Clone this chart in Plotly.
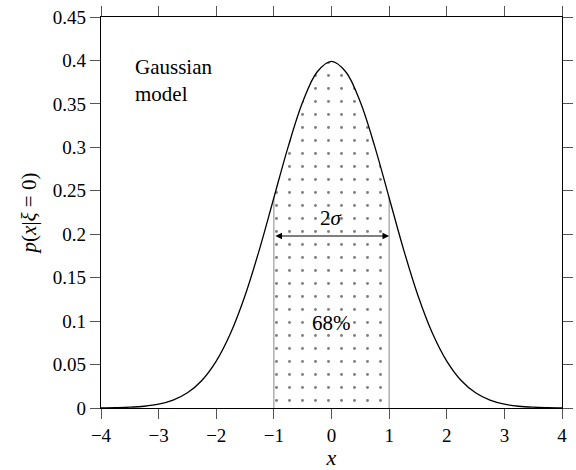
import plotly.graph_objects as go

# Sampled values of the density curve
x_vals = [-4.0, -3.75, -3.5, -3.25, -3.0, -2.75, -2.5, -2.25, -2.0, -1.75, -1.5, -1.25,
          -1.0, -0.75, -0.5, -0.25, 0.0, 0.25, 0.5, 0.75, 1.0, 1.25, 1.5, 1.75,
          2.0, 2.25, 2.5, 2.75, 3.0, 3.25, 3.5, 3.75, 4.0]
p_vals = [0.0001, 0.0004, 0.0009, 0.0020, 0.0044, 0.0091, 0.0175, 0.0317, 0.0540, 0.0863,
          0.1295, 0.1826, 0.2420, 0.3011, 0.3521, 0.3867, 0.3989, 0.3867, 0.3521, 0.3011,
          0.2420, 0.1826, 0.1295, 0.0863, 0.0540, 0.0317, 0.0175, 0.0091, 0.0044, 0.0020,
          0.0009, 0.0004, 0.0001]

x_ticks = [-4, -3, -2, -1, 0, 1, 2, 3, 4]
x_tick_text = ["\u22124", "\u22123", "\u22122", "\u22121", "0", "1", "2", "3", "4"]
y_ticks = [0, 0.05, 0.1, 0.15, 0.2, 0.25, 0.3, 0.35, 0.4, 0.45]
y_tick_text = ["0", "0.05", "0.1", "0.15", "0.2", "0.25", "0.3", "0.35", "0.4", "0.45"]

band_lo, band_hi = -1.0, 1.0
arrow_y = 0.198
FONT = "'Liberation Serif', 'DejaVu Serif', serif"

band_x = [x for x in x_vals if band_lo <= x <= band_hi]
band_p = [p for x, p in zip(x_vals, p_vals) if band_lo <= x <= band_hi]

fig = go.Figure()

# dotted 1-sigma band
fig.add_trace(go.Scatter(
    x=band_x, y=band_p, mode="lines", line=dict(color="rgba(0,0,0,0)", shape="spline"),
    fill="tozeroy", fillcolor="white",
    fillpattern=dict(shape=".", size=13, solidity=0.04, fgcolor="black", bgcolor="white"),
    hoverinfo="skip", showlegend=False))

# band edges
for xe in (band_lo, band_hi):
    pe = p_vals[x_vals.index(xe)]
    fig.add_trace(go.Scatter(x=[xe, xe], y=[0, pe], mode="lines",
                             line=dict(color="#888888", width=1), showlegend=False))

# density curve
fig.add_trace(go.Scatter(x=x_vals, y=p_vals, mode="lines",
                         line=dict(color="black", width=1.3, shape="spline"),
                         showlegend=False))

tick_font = dict(family=FONT, size=19, color="black")
fig.update_xaxes(range=[-4, 4], tickvals=x_ticks, ticktext=x_tick_text,
                 ticks="outside", ticklen=10, tickwidth=1.2, tickcolor="#555",
                 showline=True, linecolor="black", linewidth=1.3, mirror="allticks",
                 showgrid=False, zeroline=False, tickfont=tick_font, automargin=False,
                 title=dict(text="<i>x</i>", font=dict(family=FONT, size=22, color="black"),
                            standoff=4))
fig.update_yaxes(range=[0, 0.45], tickvals=y_ticks, ticktext=y_tick_text,
                 ticks="outside", ticklen=10, tickwidth=1.2, tickcolor="#555",
                 showline=True, linecolor="black", linewidth=1.3, mirror="allticks",
                 showgrid=False, zeroline=False, tickfont=tick_font, automargin=False,
                 title=dict(text="<i>p</i>(<i>x</i>|<i>\u03be</i> = 0)",
                            font=dict(family=FONT, size=21, color="black"), standoff=10))

fig.add_annotation(x=band_hi, y=arrow_y, ax=band_lo, ay=arrow_y, xref="x", yref="y",
                   axref="x", ayref="y", text="", showarrow=True, arrowhead=2,
                   arrowside="end+start", arrowsize=1.2, arrowwidth=1.1, arrowcolor="black")
fig.add_annotation(x=0, y=arrow_y + 0.004, text="2<i>\u03c3</i>", showarrow=False,
                   yanchor="bottom", font=dict(family=FONT, size=21, color="black"))
fig.add_annotation(x=0, y=0.098, text="68%", showarrow=False,
                   font=dict(family=FONT, size=21, color="black"))
fig.add_annotation(x=-3.44, y=0.408, text="Gaussian<br>model", showarrow=False,
                   xanchor="left", yanchor="top", align="left",
                   font=dict(family=FONT, size=21, color="black"))

fig.update_layout(width=576, height=470, margin=dict(l=101, r=14, t=17, b=62),
                  plot_bgcolor="white", paper_bgcolor="white")

fig.write_html("out.html")
